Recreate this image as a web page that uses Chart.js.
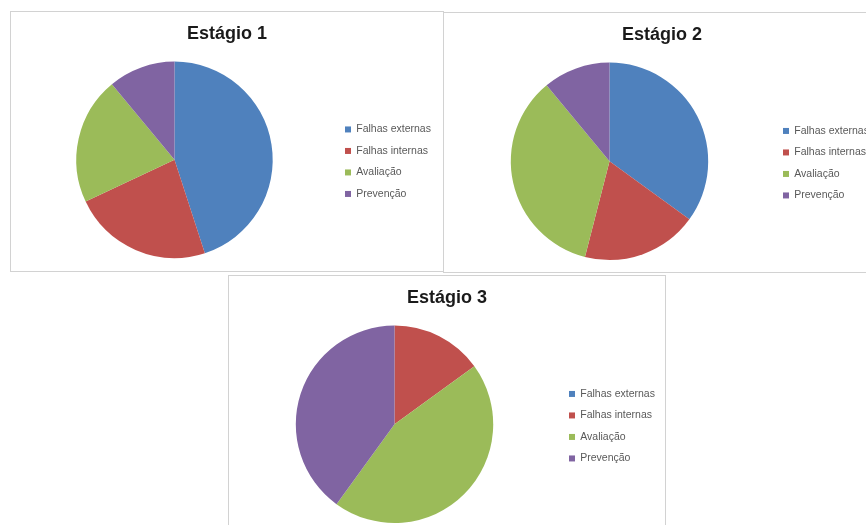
<!DOCTYPE html>
<html>
<head>
<meta charset="utf-8">
<script src="https://cdn.jsdelivr.net/npm/chart.js@4.4.1/dist/chart.umd.min.js"></script>
<style>
    body { margin: 0; width: 866px; height: 525px; overflow: hidden; background: #fff; position: relative; }
    .panel { position: absolute; box-sizing: border-box; border: 1px solid #d2d2d2; }
    canvas { position: absolute; }
</style>
</head>
<body>
<div class="panel" style="left:10px; top:11px; width:434px; height:261px;"></div>
<div class="panel" style="left:443px; top:12px; width:440px; height:261px;"></div>
<div class="panel" style="left:228px; top:275px; width:438px; height:260px;"></div>

<canvas id="chart1" width="433" height="260" style="left:10px; top:11px;"></canvas>
<canvas id="chart2" width="436" height="260" style="left:444px; top:12px;"></canvas>
<canvas id="chart3" width="437" height="250" style="left:228px; top:275px;"></canvas>

<script>
const categories = ["Falhas externas", "Falhas internas", "Avaliação", "Prevenção"];
const colors = ["#4F81BD", "#C0504D", "#9BBB59", "#8064A2"];

const stage1 = [45, 23, 21, 11];
const stage2 = [35, 19, 35, 11];
const stage3 = [0, 15, 45, 40];

const fontFamily = "'Liberation Sans', Arial, sans-serif";

function createPie(canvasId, title, values, padding) {
    const ctx = document.getElementById(canvasId).getContext("2d");
    return new Chart(ctx, {
        type: "pie",
        data: {
            labels: categories,
            datasets: [{
                data: values,
                backgroundColor: colors,
                borderWidth: 0,
                hoverOffset: 0
            }]
        },
        options: {
            responsive: false,
            animation: false,
            layout: { padding: padding },
            plugins: {
                title: {
                    display: true,
                    text: title,
                    color: "#1a1a1a",
                    font: { family: fontFamily, size: 18, weight: "bold", lineHeight: 1.2 },
                    padding: { top: 0, bottom: 17 }
                },
                legend: {
                    position: "right",
                    maxWidth: 105,
                    // empty legend title only pushes the items down to the pie centre
                    title: {
                        display: true,
                        text: "",
                        font: { size: 12, lineHeight: 1.2 },
                        padding: { top: 14, bottom: 14 }
                    },
                    labels: {
                        color: "#595959",
                        boxWidth: 6,
                        boxHeight: 6,
                        padding: 11,
                        font: { family: fontFamily, size: 10.5 }
                    }
                },
                tooltip: { enabled: false }
            }
        }
    });
}

createPie("chart1", "Estágio 1", stage1, { left: 5, right: 4, top: 12, bottom: 13 });
createPie("chart2", "Estágio 2", stage2, { left: 3, right: 3, top: 12, bottom: 12 });
createPie("chart3", "Estágio 3", stage3, { left: 3, right: 2, top: 12, bottom: 2 });
</script>
</body>
</html>
